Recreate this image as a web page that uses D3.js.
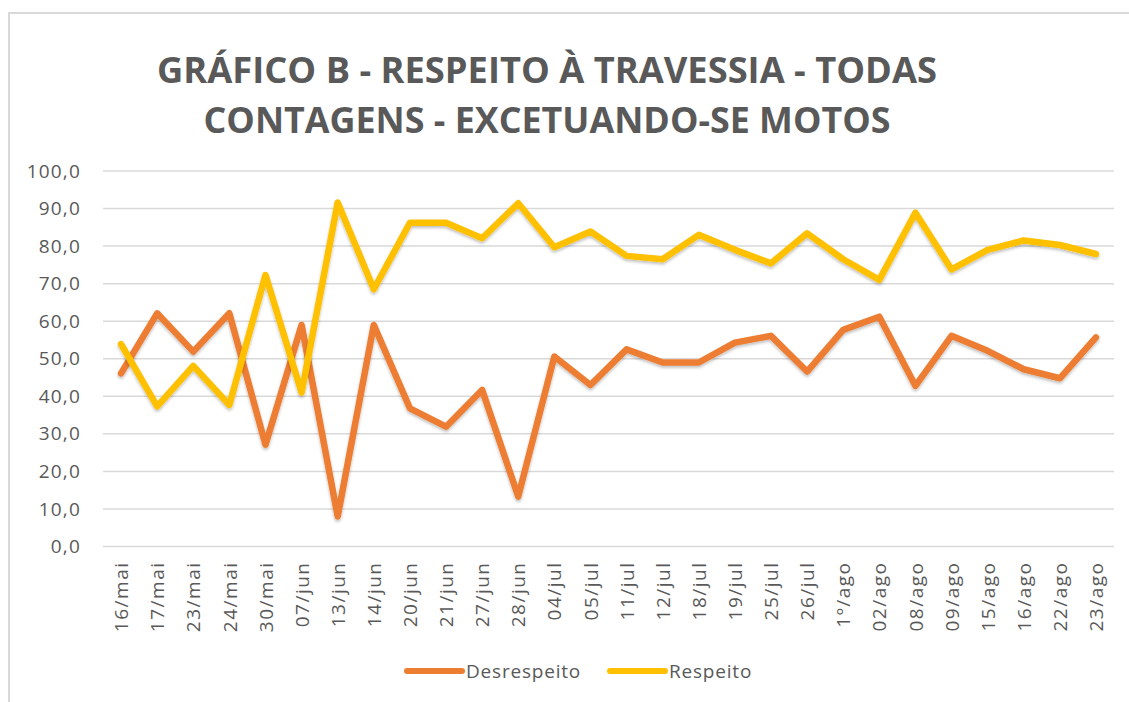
<!DOCTYPE html>
<html>
<head>
<meta charset="utf-8">
<script src="https://cdn.jsdelivr.net/npm/d3@7"></script>
<style>
  body { margin: 0; background: #fff; }
  text { font-family: "Open Sans", "Noto Sans", sans-serif; }
</style>
</head>
<body>
<div id="chart"></div>
<script>
// Data
var categories = ["16/mai","17/mai","23/mai","24/mai","30/mai","07/jun","13/jun","14/jun",
  "20/jun","21/jun","27/jun","28/jun","04/jul","05/jul","11/jul","12/jul","18/jul","19/jul",
  "25/jul","26/jul","1º/ago","02/ago","08/ago","09/ago","15/ago","16/ago","22/ago","23/ago"];
var desrespeito = [46.1,62.1,51.9,62.1,27.1,59.0,8.0,59.0,36.8,31.9,41.7,13.3,
  50.6,43.0,52.5,49.0,49.0,54.3,56.1,46.6,57.7,61.2,42.8,56.1,52.1,47.2,44.8,55.7];
var respeito = [53.9,37.3,48.1,37.7,72.3,41.0,91.6,68.5,86.2,86.2,82.1,91.4,
  79.7,83.9,77.4,76.5,83.0,79.0,75.4,83.4,76.5,71.0,88.9,73.8,79.0,81.5,80.3,77.9];
var yTicks = [0,10,20,30,40,50,60,70,80,90,100];
var titleLines = ["GRÁFICO B - RESPEITO À TRAVESSIA - TODAS", "CONTAGENS - EXCETUANDO-SE MOTOS"];

var W = 1129, H = 702;
var plot = {left: 103, right: 1114, top: 171, bottom: 546.5};

var svg = d3.select("#chart").append("svg")
    .attr("width", W).attr("height", H);

// Drop shadow like the spreadsheet lines
var defs = svg.append("defs");
var f = defs.append("filter").attr("id", "shadow")
    .attr("x", "-5%").attr("y", "-5%").attr("width", "110%").attr("height", "120%");
f.append("feDropShadow").attr("dx", 0).attr("dy", 2).attr("stdDeviation", 1.5)
    .attr("flood-color", "#000").attr("flood-opacity", 0.25);

// Chart frame
svg.append("path")
    .attr("d", "M9,702 V13 H1129")
    .attr("fill", "none").attr("stroke", "#d9d9d9").attr("stroke-width", 2);

// Title
svg.selectAll("text.title").data(titleLines).enter().append("text")
    .attr("class", "title")
    .attr("x", 547).attr("y", function(d, i) { return 83 + i * 50; })
    .attr("text-anchor", "middle")
    .attr("textLength", function(d, i) { return i === 0 ? 780 : 687; })
    .attr("lengthAdjust", "spacingAndGlyphs")
    .style("font-size", "36px").style("font-weight", "bold").style("fill", "#595959")
    .text(function(d) { return d; });

// Scales
var x = d3.scalePoint().domain(categories).range([plot.left, plot.right]).padding(0.5);
var y = d3.scaleLinear().domain([0, 100]).range([plot.bottom, plot.top]);

// Gridlines
svg.append("g").selectAll("line").data(yTicks).enter().append("line")
    .attr("x1", plot.left).attr("x2", plot.right)
    .attr("y1", function(d) { return y(d); }).attr("y2", function(d) { return y(d); })
    .attr("stroke", "#d9d9d9").attr("stroke-width", 1.5);

// Y axis labels
var fmt = function(d) { return d3.format(".1f")(d).replace(".", ","); };
var yAxis = svg.append("g")
    .attr("transform", "translate(" + (plot.left - 20) + ",0)")
    .call(d3.axisLeft(y).tickValues(yTicks).tickFormat(fmt).tickSize(0).tickPadding(2));
yAxis.select(".domain").remove();
yAxis.selectAll("text").style("font-size", "19px").style("fill", "#595959")
    .style("letter-spacing", "1.2px")
    .style("font-family", "'Open Sans', sans-serif");

// X axis labels (rotated)
var xAxis = svg.append("g")
    .attr("transform", "translate(0," + plot.bottom + ")")
    .call(d3.axisBottom(x).tickSize(0));
xAxis.select(".domain").remove();
xAxis.selectAll("text")
    .attr("transform", "rotate(-90)")
    .attr("x", -15).attr("y", 0).attr("dy", "0.35em")
    .style("text-anchor", "end")
    .style("font-size", "19px").style("fill", "#595959")
    .style("letter-spacing", "1.5px")
    .style("font-family", "'Open Sans', sans-serif");

// Lines
var line = d3.line().x(function(d, i) { return x(categories[i]); }).y(function(d) { return y(d); });
var series = [
  {name: "Desrespeito", values: desrespeito, color: "#ED7D31"},
  {name: "Respeito", values: respeito, color: "#FFC000"}
];
svg.append("g").selectAll("path").data(series).enter().append("path")
    .attr("d", function(d) { return line(d.values); })
    .attr("fill", "none")
    .attr("stroke", function(d) { return d.color; })
    .attr("stroke-width", 6.5)
    .attr("stroke-linejoin", "round").attr("stroke-linecap", "round")
    .attr("filter", "url(#shadow)");

// Legend
var legendX = [407, 610];
var lg = svg.append("g").selectAll("g").data(series).enter().append("g")
    .attr("transform", function(d, i) { return "translate(" + legendX[i] + ",671)"; });
lg.append("line").attr("x1", 0).attr("x2", 55).attr("y1", 0).attr("y2", 0)
    .attr("stroke", function(d) { return d.color; }).attr("stroke-width", 6)
    .attr("stroke-linecap", "round");
lg.append("text").attr("x", 59).attr("y", 0).attr("dy", "0.35em")
    .style("font-size", "19px").style("fill", "#595959")
    .style("letter-spacing", "0.8px")
    .text(function(d) { return d.name; });
</script>
</body>
</html>
